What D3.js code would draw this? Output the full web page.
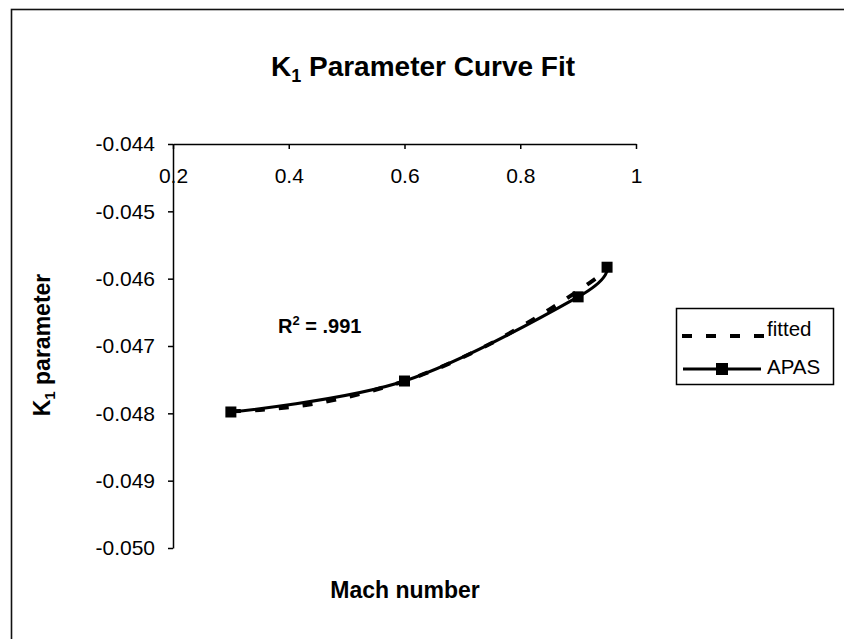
<!DOCTYPE html>
<html>
<head>
<meta charset="utf-8">
<script src="https://cdn.jsdelivr.net/npm/d3@7"></script>
<style>
  body { margin: 0; background: #fff; }
  svg text { font-family: "Liberation Sans", Arial, sans-serif; fill: #000; }
</style>
</head>
<body>
<div id="chart"></div>
<script>
// APAS data points
const machApas = [0.3, 0.6, 0.9, 0.95];
const k1Apas = [-0.04798, -0.04752, -0.04627, -0.04583];

// fitted curve points
const machFit = [0.30, 0.35, 0.40, 0.45, 0.50, 0.55, 0.60, 0.65, 0.70, 0.75, 0.80, 0.85, 0.90, 0.95];
const k1Fit = [-0.04797, -0.04795, -0.04791, -0.04785, -0.04776, -0.04765, -0.04752,
               -0.04736, -0.04717, -0.04696, -0.04672, -0.04646, -0.04618, -0.04588];

const xTicks = [0.2, 0.4, 0.6, 0.8, 1];
const xTickLabels = ['0.2', '0.4', '0.6', '0.8', '1'];
const yTicks = [-0.044, -0.045, -0.046, -0.047, -0.048, -0.049, -0.050];
const yTickLabels = ['-0.044', '-0.045', '-0.046', '-0.047', '-0.048', '-0.049', '-0.050'];

const width = 844;
const height = 639;

const svg = d3.select('#chart')
  .append('svg')
  .attr('width', width)
  .attr('height', height);

// chart frame (runs off the right and bottom edges)
svg.append('rect')
  .attr('x', 11.5)
  .attr('y', 9.5)
  .attr('width', 900)
  .attr('height', 700)
  .attr('fill', 'none')
  .attr('stroke', '#111')
  .attr('stroke-width', 1.6);

const xScale = d3.scaleLinear()
  .domain([0.2, 1])
  .range([173, 636]);

const yScale = d3.scaleLinear()
  .domain([-0.050, -0.044])
  .range([548, 144]);

// x axis sits at the top (y = -0.044), ticks pointing down
const xAxis = d3.axisBottom(xScale)
  .tickValues(xTicks)
  .tickFormat((d, i) => xTickLabels[i])
  .tickSize(5)
  .tickSizeOuter(0)
  .tickPadding(19);

svg.append('g')
  .attr('transform', `translate(0, ${yScale(-0.044)})`)
  .call(xAxis)
  .call(g => g.selectAll('text').style('font-size', '21px'))
  .call(g => g.selectAll('line, path').attr('stroke', '#000').attr('stroke-width', 1.5));

const yAxis = d3.axisLeft(yScale)
  .tickValues(yTicks)
  .tickFormat((d, i) => yTickLabels[i])
  .tickSize(5)
  .tickSizeOuter(0)
  .tickPadding(13);

svg.append('g')
  .attr('transform', `translate(${xScale(0.2)}, 0)`)
  .call(yAxis)
  .call(g => g.selectAll('text').style('font-size', '21px'))
  .call(g => g.selectAll('line, path').attr('stroke', '#000').attr('stroke-width', 1.5));

// fitted curve, dashed
const fitData = machFit.map((m, i) => ({ m: m, k: k1Fit[i] }));
const apasData = machApas.map((m, i) => ({ m: m, k: k1Apas[i] }));

const fitLine = d3.line()
  .x(d => xScale(d.m))
  .y(d => yScale(d.k))
  .curve(d3.curveCatmullRom.alpha(0));

svg.append('path')
  .attr('d', fitLine(fitData))
  .attr('fill', 'none')
  .attr('stroke', '#000')
  .attr('stroke-width', 4)
  .attr('stroke-dasharray', '10,14');

const apasLine = d3.line()
  .x(d => xScale(d.m))
  .y(d => yScale(d.k))
  .curve(d3.curveCardinal.tension(0));

svg.append('path')
  .attr('d', apasLine(apasData))
  .attr('fill', 'none')
  .attr('stroke', '#000')
  .attr('stroke-width', 3);

svg.selectAll('.marker')
  .data(apasData)
  .enter()
  .append('rect')
  .attr('class', 'marker')
  .attr('x', d => xScale(d.m) - 5.5)
  .attr('y', d => yScale(d.k) - 5.5)
  .attr('width', 11)
  .attr('height', 11)
  .attr('fill', '#000');

// title
const title = svg.append('text')
  .attr('x', 423)
  .attr('y', 76)
  .attr('text-anchor', 'middle')
  .style('font-size', '28px')
  .style('font-weight', 'bold');
title.append('tspan').text('K');
title.append('tspan').text('1').style('font-size', '18px').attr('dy', 6);
title.append('tspan').text(' Parameter Curve Fit').attr('dy', -6);

// axis titles
svg.append('text')
  .attr('x', 405)
  .attr('y', 598)
  .attr('text-anchor', 'middle')
  .style('font-size', '23px')
  .style('font-weight', 'bold')
  .text('Mach number');

const yLabel = svg.append('text')
  .attr('transform', 'translate(50, 345) rotate(-90)')
  .attr('text-anchor', 'middle')
  .style('font-size', '23px')
  .style('font-weight', 'bold');
yLabel.append('tspan').text('K');
yLabel.append('tspan').text('1').style('font-size', '15px').attr('dy', 5);
yLabel.append('tspan').text(' parameter').attr('dy', -5);

// R squared note
const r2 = svg.append('text')
  .attr('x', 278)
  .attr('y', 333)
  .style('font-size', '20px')
  .style('font-weight', 'bold');
r2.append('tspan').text('R');
r2.append('tspan').text('2').style('font-size', '13px').attr('dy', -8);
r2.append('tspan').text(' = .991').attr('dy', 8);

// legend
const legend = svg.append('g');
legend.append('rect')
  .attr('x', 676.5)
  .attr('y', 308.5)
  .attr('width', 157)
  .attr('height', 76)
  .attr('fill', '#fff')
  .attr('stroke', '#000')
  .attr('stroke-width', 1.5);

legend.append('line')
  .attr('x1', 682).attr('x2', 765)
  .attr('y1', 336).attr('y2', 336)
  .attr('stroke', '#000')
  .attr('stroke-width', 4)
  .attr('stroke-dasharray', '10,14');

legend.append('text')
  .attr('x', 767)
  .attr('y', 336)
  .style('font-size', '20.5px')
  .text('fitted');

legend.append('line')
  .attr('x1', 683).attr('x2', 761)
  .attr('y1', 369).attr('y2', 369)
  .attr('stroke', '#000')
  .attr('stroke-width', 3);

legend.append('rect')
  .attr('x', 716).attr('y', 363)
  .attr('width', 12).attr('height', 12)
  .attr('fill', '#000');

legend.append('text')
  .attr('x', 767)
  .attr('y', 374)
  .style('font-size', '20.5px')
  .text('APAS');
</script>
</body>
</html>
